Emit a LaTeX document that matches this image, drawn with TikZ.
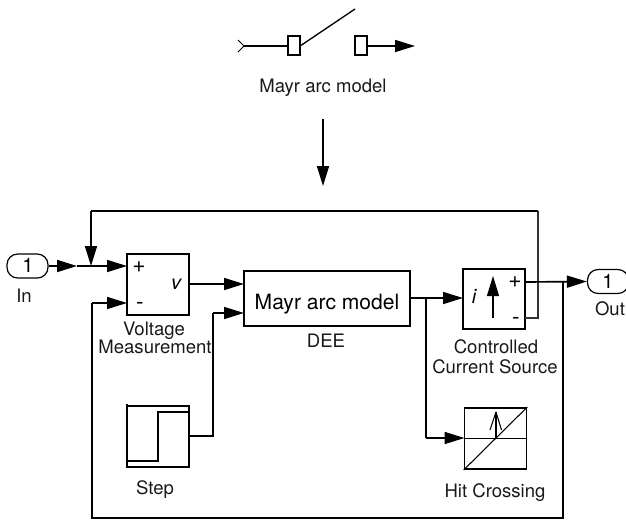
\documentclass[tikz,border=0pt]{standalone}
\usepackage{fontspec}
\setmainfont{TeX Gyre Heros}
\usetikzlibrary{arrows.meta}
\tikzset{
  wire/.style={line width=1.25pt,line join=miter},
  arr/.style={wire,-{Triangle[length=15pt,width=9pt]}},
  thin wire/.style={line width=1pt},
  blk/.style={draw,line width=1.25pt,inner sep=0pt,minimum width=#1},
  blk/.default=46.5pt,
  port/.style={draw,line width=0.9pt,rounded corners=8pt,inner sep=0pt,minimum width=30.75pt,minimum height=18pt,font=\fontsize{15}{15}\selectfont},
  lab/.style={anchor=base,inner sep=0pt,font=\fontsize{13.9}{13.9}\selectfont,text=black!90},
  sym/.style={anchor=base,inner sep=0pt,font=\fontsize{15}{15}\selectfont},
  signs/.style={anchor=base,inner sep=0pt,font=\fontsize{17}{17}\selectfont},
}
\begin{document}
\begin{tikzpicture}[x=0.75pt,y=-0.75pt]
\useasboundingbox (0,0) rectangle (626,519);
\clip (0,0) rectangle (626,519);
% breaker icon
\coordinate (chev) at (244,46);
\node[blk=9pt,minimum height=14pt] (c1) at (294,45.5) {};
\node[blk=9pt,minimum height=14pt] (c2) at (361,45.5) {};
\coordinate (swtip) at (355,9);
\coordinate (swout) at (415,46);
\draw[line width=0.7pt] (238,40) -- (chev) -- (238,52);
\draw[wire] (chev) -- (c1.west |- chev);
\draw[thin wire] (c1.east) -- (swtip);
\draw[arr] (c2.east |- swout) -- (swout);
\node[lab] (toplab) at (323,92) {Mayr arc model};
\coordinate (dn1) at (323,119);
\coordinate (dn2) at (323,186);
\draw[arr] (dn1) -- (dn2);
% ports
\node[port] (in) at (27.5,266) {};
\node[sym] (in1) at (28,272) {1};
\node[lab] (inlab) at (24,302) {In};
\node[port] (out) at (608,281.5) {};
\node[sym] (out1) at (608,288) {1};
\node[lab] (outlab) at (610,315) {Out};
% blocks
\node[blk,minimum height=46pt] (vm) at (158,284.5) {};
\node[signs] (vmp) at (139,272) {+};
\node[signs] (vmm) at (140,309) {-};
\node[sym,font=\fontsize{15}{15}\selectfont\itshape] (vmv) at (176,289) {v};
\node[lab] (vml1) at (154,335) {Voltage};
\node[lab] (vml2) at (155,353) {Measurement};
\node[blk=124.5pt,minimum height=41pt] (dee) at (327,298.5) {};
\node[anchor=base,inner sep=0pt,font=\fontsize{15.8}{15.8}\selectfont] (deetxt) at (327,309) {Mayr arc model};
\node[lab] (deelab) at (326,347) {DEE};
\node[blk,minimum height=45pt] (ccs) at (494,299) {};
\node[sym,font=\fontsize{15}{15}\selectfont\itshape] (ccsi) at (474,303) {i};
\node[signs] (ccsp) at (515,287) {+};
\node[signs] (ccsm) at (516,324) {-};
\coordinate (ia) at (493,318);
\coordinate (ib) at (493,276);
\draw[thin wire,-{Triangle[length=15pt,width=9pt]}] (ia) -- (ib);
\node[lab] (ccl1) at (496,353) {Controlled};
\node[lab] (ccl2) at (495,373) {Current Source};
\node[blk,minimum height=46pt] (step) at (158,436.5) {};
\coordinate (st0) at (127,461);
\coordinate (st1) at (158,461);
\coordinate (st2) at (158,412);
\coordinate (st3) at (189,412);
\draw[wire] (st0) -- (st1) -- (st2) -- (st3);
\draw[wire] (127,406) -- (127,404);
\node[lab] (steplab) at (155,494) {Step};
\node[blk,minimum height=46pt] (hit) at (495.5,438.5) {};
\draw[line width=1.1pt] (hit.west) -- (hit.east);
\draw[line width=0.8pt] (hit.south west) -- (hit.north east);
\coordinate (ha) at (496,438);
\coordinate (hb) at (496,412);
\draw[line width=1pt] (ha) -- (hb);
\draw[line width=0.8pt,line join=bevel] (490,430) -- (hb) -- (501.5,430);
\node[lab] (hitlab) at (495,497) {Hit Crossing};
% input wiring
\coordinate (a1) at (77,266);
\coordinate (j1) at (91,266);
\coordinate (vmplus) at (127,266);
\coordinate (vmminus) at (127,303);
\draw[arr] (in.east) -- (a1);
\draw[arr] (a1) -- (vmplus);
\coordinate (top1) at (91,211);
\coordinate (top2) at (538,211);
\coordinate (ccsminus) at (524.5,318);
\draw[line width=0.9pt,black!80] (ccsminus) -- (538,318) -- (top2);
\draw[wire] (top2) -- (top1);
\draw[arr] (top1) -- (j1);
% forward wiring
\coordinate (deein1) at (244,284);
\coordinate (deein2) at (244,313);
\draw[arr] (vm.east |- deein1) -- (deein1);
\coordinate (deeout) at (409.8,298);
\coordinate (ccsin) at (463,298);
\draw[arr] (deeout) -- (ccsin);
\coordinate (j2) at (426,298);
\coordinate (hitin) at (464.5,438);
\draw[wire] (j2) -- (426,438);
\draw[arr] (426,438) -- (hitin);
\coordinate (stepout) at (189,436);
\draw[wire] (stepout) -- (213,436) -- (213,313);
\draw[arr] (213,313) -- (deein2);
% output wiring
\coordinate (ccsplus) at (524.5,282);
\coordinate (j3) at (563,282);
\draw[arr] (ccsplus) -- (out.west);
\draw[wire] (j3) -- (563,518) -- (92,518) -- (92,303);
\draw[arr] (92,303) -- (vmminus);
\end{tikzpicture}
\end{document}
